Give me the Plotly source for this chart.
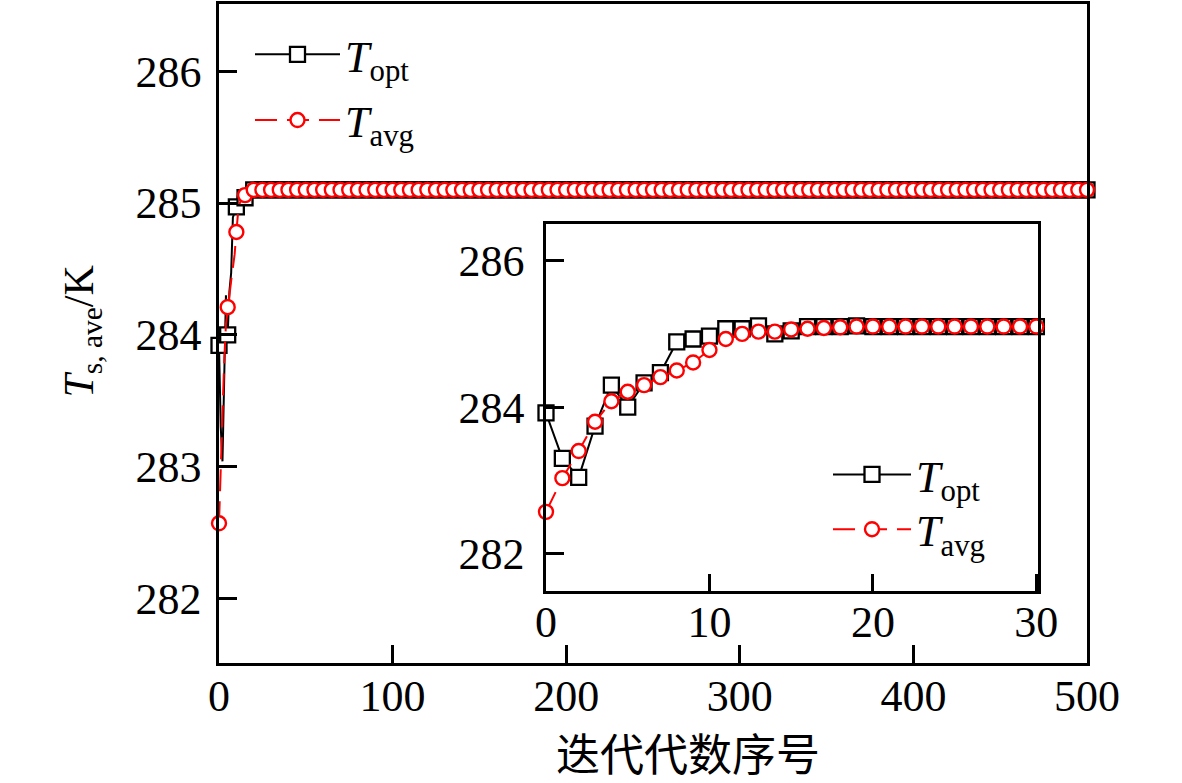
import plotly.graph_objects as go

# ---- data ----
iter_detail = list(range(31))
t_opt_detail = [283.92, 283.30, 283.04, 283.74, 284.30, 284.00, 284.33, 284.47, 284.89, 284.93,
                284.97, 285.07, 285.07, 285.11, 285.00, 285.04, 285.10, 285.10, 285.10, 285.11,
                285.10, 285.10, 285.10, 285.10, 285.10, 285.10, 285.10, 285.10, 285.10, 285.10, 285.10]
t_avg_detail = [282.57, 283.03, 283.40, 283.80, 284.08, 284.21, 284.30, 284.41, 284.50, 284.61,
                284.78, 284.93, 285.00, 285.03, 285.03, 285.06, 285.07, 285.08, 285.09, 285.10,
                285.10, 285.10, 285.10, 285.10, 285.10, 285.10, 285.10, 285.10, 285.10, 285.10, 285.10]
iter_tail = list(range(35, 501, 5))
t_opt_tail = [285.10] * len(iter_tail)
t_avg_tail = [285.10] * len(iter_tail)

main_x_ticks = [0, 100, 200, 300, 400, 500]
main_y_ticks = [282, 283, 284, 285, 286]
inset_x_ticks = [0, 10, 20, 30]
inset_y_ticks = [282, 284, 286]

name_opt = "<i>T</i><sub>opt</sub>"
name_avg = "<i>T</i><sub>avg</sub>"
x_title = "迭代代数序号"
y_title = "<i>T</i><sub>s, ave</sub>/K"

# ---- build ----
main_x = iter_detail + iter_tail
main_opt = t_opt_detail + t_opt_tail
main_avg = t_avg_detail + t_avg_tail
mk_x = [x for x in main_x if x % 5 == 0]
mk_opt = [y for x, y in zip(main_x, main_opt) if x % 5 == 0]
mk_avg = [y for x, y in zip(main_x, main_avg) if x % 5 == 0]

SERIF = "Liberation Serif, Times New Roman, serif"
BLACK = "#000000"
RED = "#ff0000"
DASH = "22px,10px"

sq = dict(symbol="square", size=15, color="white", line=dict(color=BLACK, width=2.3))
ci = dict(symbol="circle", size=14, color="white", line=dict(color=RED, width=2.4))

fig = go.Figure()
# main chart
fig.add_trace(go.Scatter(x=main_x, y=main_opt, mode="lines", line=dict(color=BLACK, width=2),
                         showlegend=False, hoverinfo="skip"))
fig.add_trace(go.Scatter(x=mk_x, y=mk_opt, mode="markers", marker=sq, showlegend=False,
                         cliponaxis=False))
fig.add_trace(go.Scatter(x=main_x, y=main_avg, mode="lines", line=dict(color=RED, width=2, dash=DASH),
                         showlegend=False, hoverinfo="skip"))
fig.add_trace(go.Scatter(x=mk_x, y=mk_avg, mode="markers", marker=ci, showlegend=False,
                         cliponaxis=False))
# main legend entries
fig.add_trace(go.Scatter(x=[None], y=[None], mode="lines+markers", name=name_opt,
                         line=dict(color=BLACK, width=2), marker=sq, legend="legend"))
fig.add_trace(go.Scatter(x=[None], y=[None], mode="lines+markers", name=name_avg,
                         line=dict(color=RED, width=2, dash=DASH), marker=ci, legend="legend3"))
# inset
fig.add_trace(go.Scatter(x=iter_detail, y=t_opt_detail, mode="lines+markers", name=name_opt,
                         line=dict(color=BLACK, width=2), marker=sq, xaxis="x2", yaxis="y2",
                         legend="legend2", cliponaxis=False))
fig.add_trace(go.Scatter(x=iter_detail, y=t_avg_detail, mode="lines+markers", name=name_avg,
                         line=dict(color=RED, width=2, dash=DASH), marker=ci, xaxis="x2", yaxis="y2",
                         legend="legend4", cliponaxis=False))

axis_common = dict(showline=True, linecolor=BLACK, linewidth=2.5, mirror=True, ticks="inside",
                   ticklen=18, tickwidth=2.5, tickcolor=BLACK, showgrid=False, zeroline=False,
                   tickfont=dict(family=SERIF, size=44, color=BLACK))

L, R, T, B = 219, 95, 1, 120
W, H = 1182, 783
pw, ph = W - L - R, H - T - B

def px_x(p):
    return (p - L) / pw

def px_y(p):
    return (H - B - p) / ph

def leg(xp, yp, iw):
    return dict(x=px_x(xp), y=px_y(yp), xanchor="left", yanchor="middle", bgcolor="rgba(0,0,0,0)",
                font=dict(family=SERIF, size=44, color=BLACK), itemwidth=iw, itemsizing="trace")

fig.update_layout(
    width=W, height=H,
    margin=dict(l=L, r=R, t=T, b=B),
    paper_bgcolor="white", plot_bgcolor="white",
    font=dict(family=SERIF, color=BLACK),
    xaxis=dict(range=[0, 500], tickvals=main_x_ticks, ticklabelstandoff=-8, **axis_common),
    yaxis=dict(range=[281.51, 286.51], tickvals=main_y_ticks, ticklabelstandoff=6, **axis_common),
    xaxis2=dict(domain=[px_x(546), px_x(1038)], anchor="y2", range=[0, 30.1],
                tickvals=inset_x_ticks, ticklabelstandoff=-10, **axis_common),
    yaxis2=dict(domain=[px_y(591), px_y(222)], anchor="x2", range=[281.485, 286.5],
                tickvals=inset_y_ticks, ticklabelstandoff=10, **axis_common),
    legend=leg(250, 52, 85),
    legend3=leg(250, 118, 85),
    legend2=leg(828, 474, 78),
    legend4=leg(828, 529, 78),
    annotations=[
        dict(text=x_title, x=px_x(688), y=px_y(752), xref="paper", yref="paper",
             xanchor="center", yanchor="middle", showarrow=False,
             font=dict(family="Noto Sans CJK SC", size=44, color=BLACK)),
        dict(text=y_title, x=px_x(82), y=px_y(330), xref="paper", yref="paper",
             xanchor="center", yanchor="middle", showarrow=False, textangle=-90,
             font=dict(family=SERIF, size=42, color=BLACK)),
    ],
)

fig.write_html("out.html", config={"displayModeBar": False},
               post_script="document.body.style.margin='0px';")
